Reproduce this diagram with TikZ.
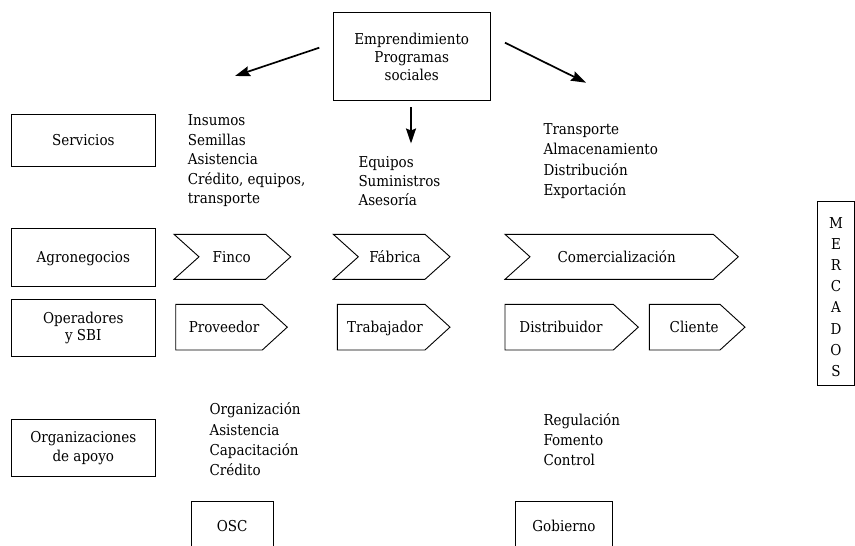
\documentclass[tikz,border=0pt]{standalone}
\usepackage{fontspec}
\setmainfont{DejaVu Serif Condensed}
\usetikzlibrary{arrows.meta}

% chevron with notched tail: left x, right x, top y, bottom y
\newcommand\drawchev[4]{%
  \draw[outline] (#1,#3) -- ({#2-25},#3) -- (#2,{(#3+#4)/2}) -- ({#2-25},#4)
    -- (#1,#4) -- ({#1+25},{(#3+#4)/2}) -- cycle;}
% pentagon arrow with flat tail: left x, right x, top y, bottom y
\newcommand\drawpent[4]{%
  \draw[outline] (#1,#3) -- ({#2-25},#3) -- (#2,{(#3+#4)/2}) -- ({#2-25},#4)
    -- (#1,#4) -- cycle;}
% font size with a given leading
\newcommand\lblsize[1]{\fontsize{15}{#1}\selectfont}

\begin{document}
\begin{tikzpicture}[x=1pt,y=-1pt,
  outline/.style={line width=0.9pt, line join=miter},
  txt/.style={font=\lblsize{19.5}, inner sep=0pt},
  oneline/.style={txt, text height=12pt, text depth=2pt},
  lst/.style={txt, align=left, anchor=west},
  sidebox/.style={draw, line width=0.9pt, minimum width=143.3pt, inner sep=0pt,
    align=center, font=\lblsize{18.5}},
  flow/.style={line width=1.7pt, -{Stealth[length=15pt,width=10pt,inset=2pt]}}]

\useasboundingbox (0,0) rectangle (855,546);

% central box and its three arrows
\node[draw, line width=0.9pt, minimum width=156.7pt, minimum height=88pt,
  inner sep=0pt, align=center, font=\lblsize{18}]
  (emp) at (411.7,56.7) {Emprendimiento\\Programas\\sociales};
\coordinate (la0) at (319.3,47.7);
\coordinate (la1) at (235,76);
\coordinate (ra0) at (505,42.7);
\coordinate (ra1) at (586,82.7);
\coordinate (da0) at (411,107);
\coordinate (da1) at (411,143.5);
\draw[flow] (la0) -- (la1);
\draw[flow] (ra0) -- (ra1);
\draw[flow] (da0) -- (da1);

% row labels
\node[sidebox, minimum height=52.7pt, text height=12pt, text depth=2pt]
  (serv) at (83.3,140.4) {Servicios};
\node[sidebox, minimum height=57.7pt, text height=12pt, text depth=2pt]
  (agro) at (83.3,257.2) {Agronegocios};
\node[sidebox, minimum height=57.7pt, font=\lblsize{16.8}]
  (oper) at (83.3,327.9) {Operadores\\y SBI};
\node[sidebox, minimum height=57.4pt] (orgs) at (83.3,448) {Organizaciones\\de apoyo};

% lists of services
\node[lst] (ins) at (187.7,160.8) {Insumos\\Semillas\\Asistencia\\Crédito, equipos,\\transporte};
\node[lst, font=\lblsize{19}] (equ) at (358.3,181) {Equipos\\Suministros\\Asesoría};
\node[lst, font=\lblsize{20.3}] (tra) at (543.3,161) {Transporte\\Almacenamiento\\Distribución\\Exportación};

% agribusiness chain
\drawchev{174}{290.7}{234.3}{279.3}
\node[oneline] (finco) at (231.7,257.7) {Finco};
\drawchev{333.3}{450}{234.3}{279.3}
\node[oneline] (fab) at (395,257.7) {Fábrica};
\drawchev{505}{738.3}{234.3}{279.3}
\node[oneline] (com) at (616.7,257.7) {Comercialización};

% operators
\drawpent{175.7}{287.3}{304.3}{350}
\node[oneline] (prov) at (224,327.7) {Proveedor};
\drawpent{337.3}{450}{304.3}{350}
\node[oneline] (trab) at (385,327.7) {Trabajador};
\drawpent{505}{638.3}{304.3}{350}
\node[oneline] (dist) at (561,327.7) {Distribuidor};
\drawpent{649.3}{745}{304.3}{350}
\node[oneline] (cli) at (694.2,327.7) {Cliente};

% markets
\node[draw, line width=0.9pt, minimum width=36.7pt, minimum height=183.3pt,
  inner sep=0pt] (merbox) at (835.65,293.35) {};
\node[txt, align=center, font=\lblsize{21.1}]
  (mer) at (836,297) {M\\E\\R\\C\\A\\D\\O\\S};

% support organisations
\node[lst, font=\lblsize{20.3}] (orgl) at (209.3,439.3) {Organización\\Asistencia\\Capacitación\\Crédito};
\node[lst, font=\lblsize{20}] (regl) at (543.3,439.8) {Regulación\\Fomento\\Control};

% open-bottomed boxes at the foot
\draw[outline] (191,546) -- (191,501.7) -- (273.3,501.7) -- (273.3,546);
\node[oneline] (osc) at (232.2,526) {OSC};
\draw[outline] (515.7,546) -- (515.7,501.7) -- (612.3,501.7) -- (612.3,546);
\node[oneline] (gob) at (564,526) {Gobierno};

\end{tikzpicture}
\end{document}
